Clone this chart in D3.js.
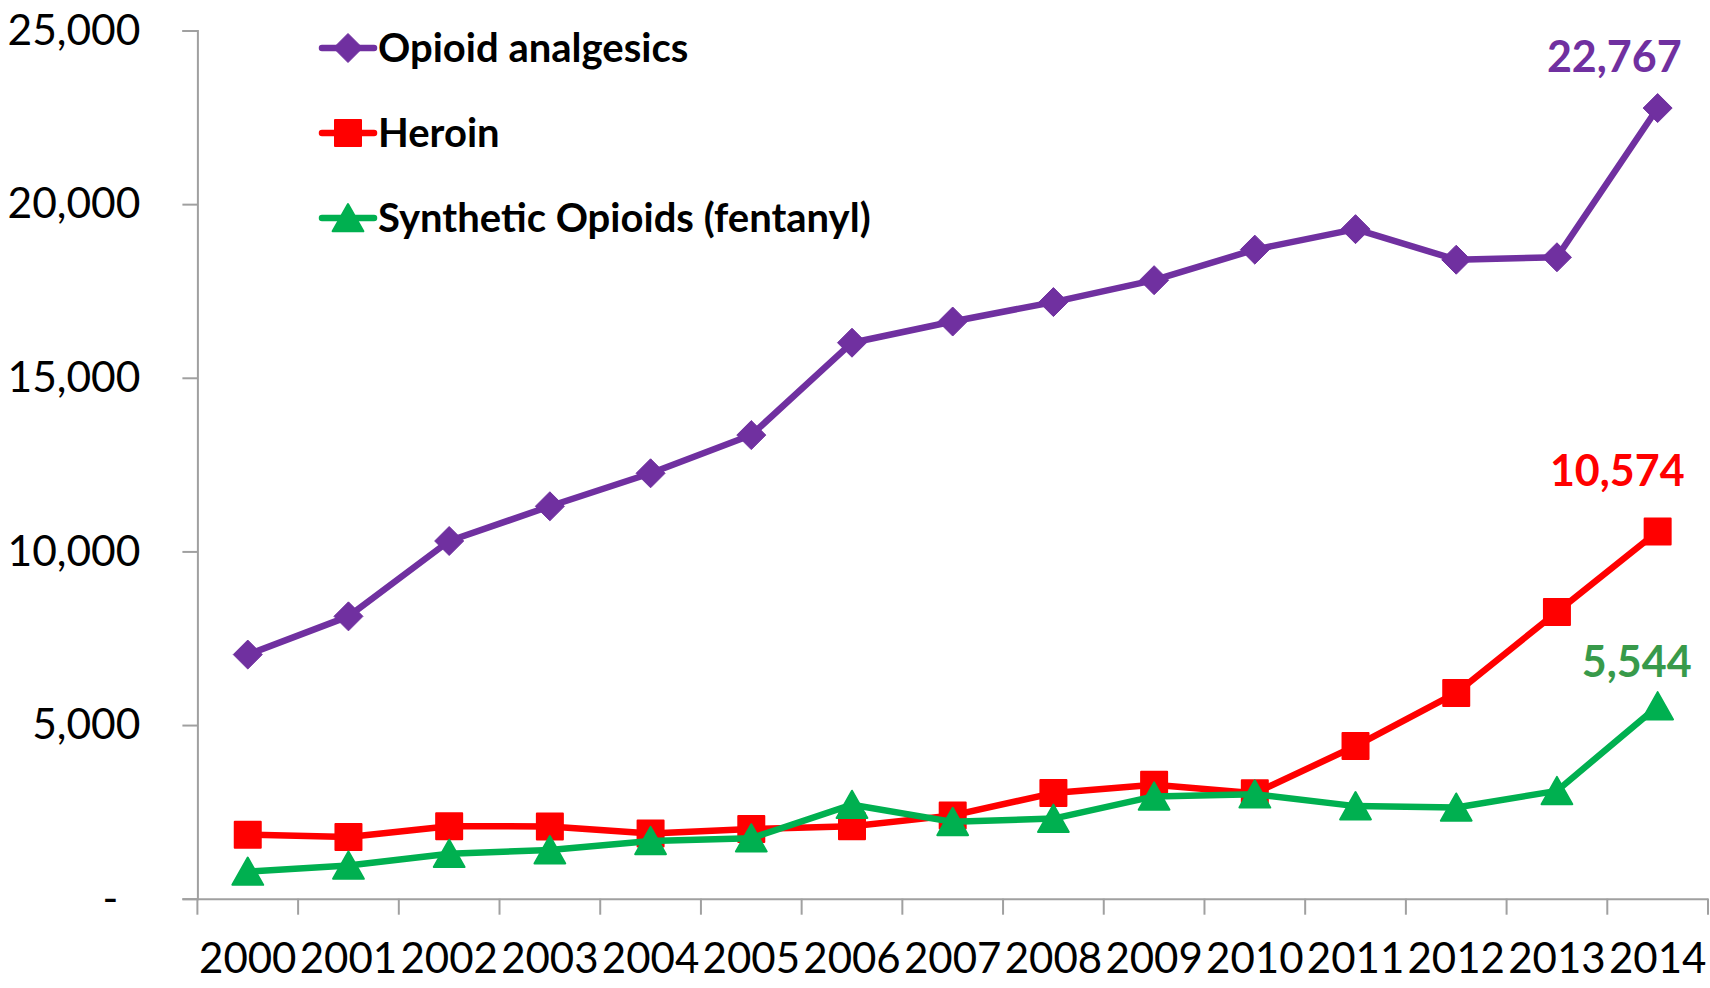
<!DOCTYPE html>
<html>
<head>
<meta charset="utf-8">
<script src="https://cdn.jsdelivr.net/npm/d3@7"></script>
<style>
  html, body { margin: 0; padding: 0; background: #fff; }
  svg { display: block; font-family: Lato, "Open Sans", sans-serif; }
</style>
</head>
<body>
<svg id="chart" width="1710" height="988"></svg>
<script>
const years = ["2000","2001","2002","2003","2004","2005","2006","2007","2008","2009","2010","2011","2012","2013","2014"];
const opioidAnalgesics = [7030, 8130, 10300, 11300, 12250, 13350, 16010, 16620, 17180, 17810, 18690, 19280, 18400, 18470, 22767];
const heroin = [1842, 1779, 2089, 2080, 1878, 2009, 2088, 2399, 3041, 3278, 3036, 4397, 5925, 8257, 10574];
const synthetic = [782, 957, 1295, 1400, 1664, 1742, 2707, 2213, 2306, 2946, 3007, 2666, 2628, 3105, 5544];
const seriesNames = ["Opioid analgesics", "Heroin", "Synthetic Opioids (fentanyl)"];
const yTicks = [0, 5000, 10000, 15000, 20000, 25000];

(function () {
const series = [
  { name: seriesNames[0], values: opioidAnalgesics, color: "#7030A0", labelColor: "#7030A0", symbol: "diamond", labelDx: 24, labelDy: -36 },
  { name: seriesNames[1], values: heroin, color: "#FF0000", labelColor: "#FF0000", symbol: "square", labelDx: 27, labelDy: -45 },
  { name: seriesNames[2], values: synthetic, color: "#00B050", labelColor: "#389A4A", symbol: "triangle", labelDx: 34, labelDy: -29 }
];

const svg = d3.select("#chart");
const mLeft = 197.4, mRight = 1708, mTop = 30.5, mBottom = 898.7;

const x = d3.scaleBand().domain(years).range([mLeft, mRight]).padding(0);
const y = d3.scaleLinear().domain([0, 25000]).range([mBottom, mTop]);
const axisColor = "#A0A0A0";

// Y axis
const yAxis = svg.append("g").attr("transform", `translate(${mLeft},0)`)
  .call(d3.axisLeft(y).tickValues(yTicks).tickSize(15).tickPadding(42)
    .tickFormat(d => d === 0 ? "-" : d3.format(",")(d)));
yAxis.select(".domain").attr("stroke", axisColor).attr("stroke-width", 2);
yAxis.selectAll(".tick line").attr("stroke", axisColor).attr("stroke-width", 2);
yAxis.selectAll(".tick text").attr("font-size", 42.5).attr("fill", "#000")
  .attr("font-family", "Lato, sans-serif")
  .attr("dx", d => d === 0 ? -22 : 0);

// X axis (labels)
const xAxis = svg.append("g").attr("transform", `translate(0,${mBottom})`)
  .call(d3.axisBottom(x).tickSize(0).tickPadding(44));
xAxis.select(".domain").attr("stroke", axisColor).attr("stroke-width", 2);
xAxis.selectAll(".tick text").attr("font-size", 42).attr("fill", "#000")
  .attr("font-family", "Lato, sans-serif");
// tick marks at category boundaries
const boundaries = years.map(d => x(d)).concat([x(years[years.length-1]) + x.bandwidth()]);
svg.append("g").selectAll("line").data(boundaries).join("line")
  .attr("x1", d => d).attr("x2", d => d)
  .attr("y1", mBottom).attr("y2", mBottom + 16)
  .attr("stroke", axisColor).attr("stroke-width", 2);

const cx = (i) => x(years[i]) + x.bandwidth() / 2;

const symbolPath = {
  diamond: (s) => `M0,${-s}L${s},0L0,${s}L${-s},0Z`,
  square: (s) => `M${-s},${-s}H${s}V${s}H${-s}Z`,
  triangle: (s) => `M0,${-s}L${s*1.1},${s*0.95}L${-s*1.1},${s*0.95}Z`
};
const symbolSize = { diamond: 14.5, square: 13, triangle: 14 };

function drawMarker(g, sym, color) {
  g.append("path").attr("d", symbolPath[sym](symbolSize[sym]))
    .attr("fill", color).attr("stroke", color)
    .attr("stroke-width", sym === "diamond" ? 1 : 2)
    .attr("stroke-linejoin", "round");
}

const line = d3.line().x((d, i) => cx(i)).y(d => y(d));

series.forEach(s => {
  const g = svg.append("g");
  g.append("path").datum(s.values).attr("d", line)
    .attr("fill", "none").attr("stroke", s.color).attr("stroke-width", 6.5)
    .attr("stroke-linejoin", "round").attr("stroke-linecap", "round");
  s.values.forEach((v, i) => {
    const m = g.append("g").attr("transform", `translate(${cx(i)},${y(v)})`);
    drawMarker(m, s.symbol, s.color);
  });
  const last = s.values.length - 1;
  g.append("text")
    .attr("x", cx(last) + s.labelDx).attr("y", y(s.values[last]) + s.labelDy)
    .attr("text-anchor", "end").attr("font-size", 43).attr("font-weight", 700)
    .attr("fill", s.labelColor).text(d3.format(",")(s.values[last]));
});

// Legend
const legendRowY = [48, 133, 218];
series.forEach((s, i) => {
  const g = svg.append("g").attr("transform", `translate(0,${legendRowY[i]})`);
  g.append("line").attr("x1", 322).attr("x2", 374).attr("y1", 0).attr("y2", 0)
    .attr("stroke", s.color).attr("stroke-width", 6.5).attr("stroke-linecap", "round");
  const m = g.append("g").attr("transform", "translate(348,0)");
  drawMarker(m, s.symbol, s.color);
  g.append("text").attr("x", 378).attr("y", 0).attr("dy", "0.35em")
    .attr("font-size", 40).attr("font-weight", 700).attr("fill", "#000")
    .text(s.name);
});
})();
</script>
</body>
</html>
